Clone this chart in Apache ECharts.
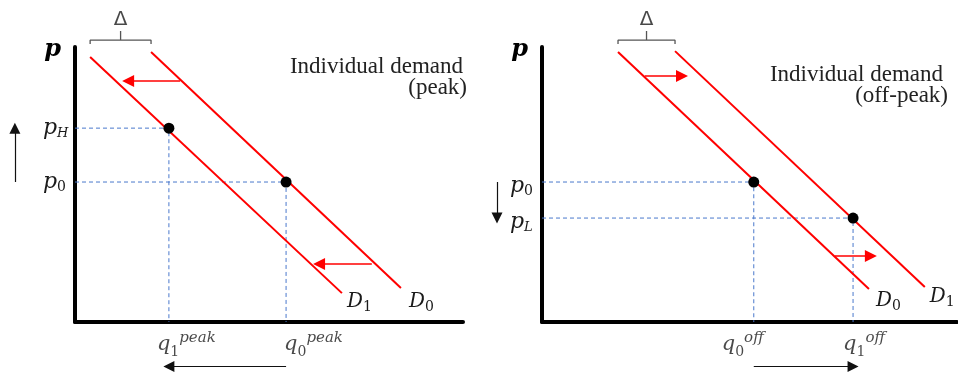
<!DOCTYPE html>
<html>
<head>
<meta charset="utf-8">
<script src="https://cdn.jsdelivr.net/npm/echarts@6/dist/echarts.min.js"></script>
<style>
  html, body { margin: 0; padding: 0; background: #fff; }
  #main { width: 958px; height: 373px; }
</style>
</head>
<body>
<div id="main"></div>
<script>
// both panels use the same made-up units: quantity 0-10 across, price 0-10 up

// peak panel
var peakD0 = [[1.96, 9.82], [8.40, 1.24]];
var peakD1 = [[0.39, 9.64], [6.88, 1.05]];
var peakEq = [[5.44, 5.09], [2.42, 7.05]];        // [q0, p0], [q1, pH]
var peakShift = [[7.65, 6.29, 2.11], [2.71, 1.37, 8.76]];   // from q, to q, at p
var peakPSub = ['0', 'H'];
var peakQSub = ['0', '1'];

// off-peak panel
var offD0 = [[1.96, 9.82], [8.43, 1.20]];
var offD1 = [[3.43, 9.85], [9.87, 1.27]];
var offEq = [[5.46, 5.09], [8.02, 3.78]];         // [q0, p0], [q1, pL]
var offShift = [[2.65, 3.61, 8.95], [7.55, 8.48, 2.40]];
var offPSub = ['0', 'L'];
var offQSub = ['0', '1'];

// layout bits (not data)
var peakQShift = [-2, -12];
var offQShift = [-32, -10];

var RED = '#ff0000', BLUE = '#4a78cc', INK = '#1a1a1a';
var MATH = 'DejaVu Serif';
var TEXT = 'Liberation Serif';

var richD = {
    d: { fontFamily: MATH, fontStyle: 'italic', fontSize: 20, color: INK, lineHeight: 24 },
    s: { fontFamily: MATH, fontSize: 14, color: INK, lineHeight: 13, verticalAlign: 'bottom' }
};
var richP = {
    p: { fontFamily: MATH, fontStyle: 'italic', fontSize: 22, color: INK, lineHeight: 24 },
    s: { fontFamily: MATH, fontSize: 14, color: INK, lineHeight: 13, verticalAlign: 'bottom' },
    si: { fontFamily: MATH, fontStyle: 'italic', fontSize: 13, color: INK, lineHeight: 13, verticalAlign: 'bottom' }
};
var richQ = {
    q: { fontFamily: MATH, fontStyle: 'italic', fontSize: 21, color: INK, lineHeight: 28 },
    s: { fontFamily: MATH, fontSize: 14, color: INK, lineHeight: 13, verticalAlign: 'bottom' },
    u: { fontFamily: MATH, fontStyle: 'italic', fontSize: 15, color: INK, lineHeight: 14, verticalAlign: 'top' }
};

function curve(idx, pts, sub, off) {
    return {
        type: 'line', xAxisIndex: idx, yAxisIndex: idx, data: pts,
        symbol: 'none', silent: true, z: 3,
        lineStyle: { color: RED, width: 2 },
        endLabel: { show: true, distance: 0, offset: off, formatter: '{d|D}{s|' + sub + '}', rich: richD }
    };
}

function guide(idx, e) {
    return {
        type: 'line', xAxisIndex: idx, yAxisIndex: idx, symbol: 'none', silent: true, z: 1,
        data: [[0, e[1]], [e[0], e[1]], [e[0], 0]],
        lineStyle: { color: BLUE, width: 1, type: [4, 3] }
    };
}

function arrows(idx, segs, color, width, size) {
    return {
        type: 'lines', coordinateSystem: 'cartesian2d', xAxisIndex: idx, yAxisIndex: idx,
        clip: false, silent: true, z: 4,
        symbol: ['none', 'triangle'], symbolSize: size,
        lineStyle: { color: color, width: width, opacity: 1, curveness: 0 },
        data: segs.map(function (s) { return { coords: s }; })
    };
}

function panel(idx, D0, D1, eq, shift, qSub, qShift, word, left, right, d0Off, d1Off) {
    var a = left[0][0], b = right[0][0], m = (a + b) / 2;
    var brace = [[a, 10.11], [a, 10.25], [m, 10.25], [m, 10.58], [m, 10.25], [b, 10.25], [b, 10.11]];
    var side = idx === 0 ? -1.55 : -1.16;
    return [
        guide(idx, eq[0]), guide(idx, eq[1]),
        curve(idx, D0, '0', d0Off), curve(idx, D1, '1', d1Off),
        {
            type: 'scatter', xAxisIndex: idx, yAxisIndex: idx, symbolSize: 11, z: 5, silent: true,
            itemStyle: { color: '#000', opacity: 1 }, data: eq
        },
        arrows(idx, shift.map(function (s) { return [[s[0], s[2]], [s[1], s[2]]]; }), RED, 1.5, 12),
        arrows(idx, [
            [[eq[0][0], -1.62], [eq[1][0], -1.62]],
            [[side, eq[0][1]], [side, eq[1][1]]]
        ], '#111', 1.2, 11),
        {
            type: 'line', xAxisIndex: idx, yAxisIndex: idx, symbol: 'none', silent: true, clip: false,
            data: brace, lineStyle: { color: '#555', width: 1.3 }
        },
        {
            type: 'scatter', xAxisIndex: idx, yAxisIndex: idx, symbolSize: 0, clip: false, silent: true,
            data: [{
                value: [m, 10.98],
                label: { show: true, position: 'inside', formatter: '\u0394', color: INK,
                    fontFamily: 'DejaVu Sans', fontSize: 20 }
            }].concat(eq.map(function (e, i) {
                return {
                    value: [e[0], 0],
                    label: {
                        show: true, position: [0, 0], align: 'left', verticalAlign: 'top',
                        offset: [qShift[i], 9],
                        formatter: '{q|q}{s|' + qSub[i] + '}{u|' + word + '}', rich: richQ
                    }
                };
            }))
        }
    ];
}

function yAxis(idx, eq, pSub, pad) {
    return {
        gridIndex: idx, type: 'value', min: 0, max: 10,
        name: 'p', nameLocation: 'end', nameGap: -3,
        nameTextStyle: { fontFamily: MATH, fontStyle: 'italic', fontWeight: 'bold', fontSize: 24,
            color: '#000', align: 'right', verticalAlign: 'middle', padding: [0, 14, 0, 0] },
        axisLine: { lineStyle: { color: '#000', width: 4 } },
        axisTick: { show: false },
        splitLine: { show: false },
        axisLabel: {
            customValues: eq.map(function (e) { return e[1]; }),
            align: 'left', margin: 32, padding: pad, rich: richP,
            formatter: function (v) {
                for (var i = 0; i < eq.length; i++) {
                    if (eq[i][1] === v) {
                        var st = /\d/.test(pSub[i]) ? 's' : 'si';
                        return '{p|p}{' + st + '|' + pSub[i] + '}';
                    }
                }
                return '';
            }
        }
    };
}

function xAxis(idx, max) {
    return {
        gridIndex: idx, type: 'value', min: 0, max: max,
        axisLine: { lineStyle: { color: '#000', width: 4 } },
        axisTick: { show: false },
        axisLabel: { show: false },
        splitLine: { show: false }
    };
}

function note(text, right, top) {
    return { type: 'text', right: right, top: top,
        style: { text: text, fontFamily: TEXT, fontSize: 23, fill: '#222' } };
}

var option = {
    animation: false,
    backgroundColor: '#fff',
    grid: [
        { left: 75, top: 47, width: 388, height: 275 },
        { left: 542, top: 47, width: 415, height: 275 }
    ],
    xAxis: [xAxis(0, 10), xAxis(1, 10.7)],
    yAxis: [yAxis(0, peakEq, peakPSub, [0, 0, 0, 0]), yAxis(1, offEq, offPSub, [8, 0, 0, 0])],
    graphic: [
        note('Individual demand', 495, 55),
        note('(peak)', 491, 76),
        note('Individual demand', 15, 63),
        note('(off-peak)', 10, 84)
    ],
    series: [].concat(
        panel(0, peakD0, peakD1, peakEq, peakShift, peakQSub, peakQShift, 'peak', peakD1, peakD0, [8, 14], [5, 9]),
        panel(1, offD0, offD1, offEq, offShift, offQSub, offQShift, 'off', offD0, offD1, [7, 12], [5, 10])
    )
};

var myChart = echarts.init(document.getElementById('main'));
myChart.setOption(option);
</script>
</body>
</html>
